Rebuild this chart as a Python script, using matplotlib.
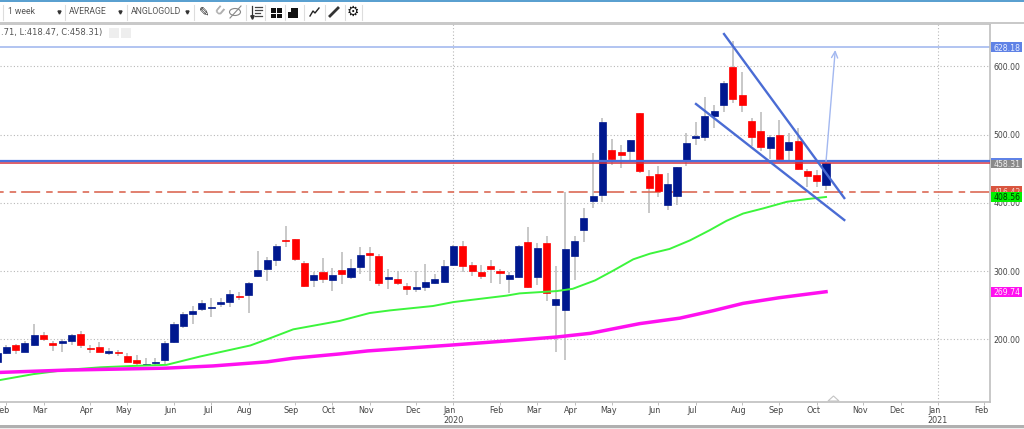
import matplotlib
matplotlib.use("Agg")
import matplotlib.pyplot as plt
from matplotlib.patches import Rectangle, Ellipse, Polygon
from matplotlib.transforms import ScaledTranslation

opens = [167,180,191,182,192,206,194,194,197,208,188,189,180,182,175,169,163,165,169,196,
         219,237,244,246,252,254,264,264.5,293,303.4,315.5,346,347,311.6,286.4,299,286.4,301,291,306,
         326,322,289,289,278.5,274,276,282.5,284,309,336.6,309,298.5,307,299.5,288.8,291,342.4,291,340.5,
         250,243.4,322,359.5,402.4,412,477.7,475,475.7,531,440,442,397,409.7,463,495.6,496,527,543,598.5,
         558.4,519.3,504.6,480,498.8,478,490.5,447,440.6,426]
highs = [182,192,193,197,222,210,197,201,208,212,191,196,188,184,180,177,172,172,197,226,
         240,248.5,257,260,261,272,269,284,329,321,340,366,347,314.6,298.5,319,305,328,317.5,335,
         335,325,303,300,282,300,310,296,316.6,337.5,344,313,309,315.6,303.4,298.5,337.5,364.4,341,351,
         307,415.6,351,392,473,525,493.7,484,492,531,448.5,454,443.7,453,502,519,555,543,579,637.6,
         592,523.7,533.5,499,521,501.7,509,449.4,448,461]
lows = [164,178,178,181,190,197,183,182,191,187,180,181,177,175,166.5,161,162,163,164,195,
        217,223,242,232,248,248,258,239,291,285,308,335,314.5,276.7,276.7,282.5,271,281,289,296,
        285,278,273,279,265,269,271,281,283,308,298.5,293,288,283,280.5,268,290,275,280,256,
        181.5,170,287,342.4,393,401.5,456,451.5,459.7,444,384.5,408,390,396.6,453.4,485,491,509,533.5,545.7,
        533.5,483,476,463.6,461,462.6,448,423.5,423.5,418.47]
closes = [180,189,184,194,206,200,192,198,206,192,186,182,183.5,180,167,165,164,167,194,222,
          237,241,253,248,254,266,262.6,282.5,301,315.5,336,344,318,278.6,294.7,289,294.7,295,305,324,
          324,283,291,282.5,274,276.6,284,289,307,336.6,308,299.5,292.7,303.4,297,294.6,336,276,334,268,
          259.5,332,344.4,378,410.7,519,463.6,469.4,491.7,447,422,417.5,427.7,453,487,498.5,526.7,534,575.5,552.6,
          542.8,496.8,482,496.8,464,488.5,449.4,438.6,432.3,458.31]

month_idx = [1,5,10,14,19,23,27,32,36,40,45,49,54,58,62,66,71,75,80,84,88,93,97,101,106]
month_lab = ["Feb","Mar","Apr","May","Jun","Jul","Aug","Sep","Oct","Nov","Dec","Jan","Feb","Mar","Apr",
             "May","Jun","Jul","Aug","Sep","Oct","Nov","Dec","Jan","Feb"]
year_idx = [49,101]
year_lab = ["2020","2021"]
price_ticks = [200,300,400,500,600]

green_idx = [0.3,3.9,7.5,11.1,14.6,18.2,21.8,27.2,29,31.8,36.8,40,42.2,46.8,49,54.7,56.1,60.1,61.8,64.2,
             66.2,68.3,70.1,72.2,74.4,76.5,78.3,80.1,82.3,84.8,86.9,89]
green_val = [140.3,149,155.3,159,161,162.6,174.8,191,200,214.6,227,238.5,242.4,248.8,254.6,264,267.3,270.7,
             274,286.3,301,317.2,325.5,332.4,345,359.8,373.5,384.3,392,401.5,405.4,408.56]
mag_idx = [0.3,7.5,18.2,23.2,29,31.8,36.8,39.8,48.9,54.7,60.1,63.7,69,73.3,76.9,80.1,84,89]
mag_val = [151.5,154.9,157.8,161,167,172.3,178.6,183,191.7,197.6,203.4,208.8,223,231,242,252.7,261,269.74]

target_price = 628.18
last_close = 458.31
blue_level = 461
resist_price = 416.42
wedge_top_x, wedge_top_y = [78.05,90.96], [647.3,407]
wedge_low_x, wedge_low_y = [75.04,90.96], [544.8,374.8]
arrow_x, arrow_y = [89,89.99], [461,623.9]

W, H = 1024, 429
fig = plt.figure(figsize=(W/100, H/100), dpi=100, facecolor="white")
plt.rcParams["font.family"] = "DejaVu Sans"
L, R, T, B = 0, 989.7, 24, 401.7
ax = fig.add_axes([L/W, 1-B/H, (R-L)/W, (B-T)/H], facecolor="white")
ax.set_xlim((L+3)/9.315, (R+3)/9.315)
ax.set_ylim(108.6, 662)

BLUE, RED = "#00188f", "#ff0000"
idx = list(range(len(closes)))
ax.vlines(idx, lows, highs, colors="#bfbfbf", lw=1.2, zorder=2)
ax.hlines(resist_price, *ax.get_xlim(), colors="#dc6a55", lw=1.2,
          linestyles=(9.2, (11.4, 3.6, 3.9, 3.0)), zorder=2.5)
for i, o, c in zip(idx, opens, closes):
    col = BLUE if c >= o else RED
    ax.bar(i, abs(c-o), bottom=min(o, c), width=0.76, color=col, edgecolor=col, lw=0.5, zorder=3)

ax.plot(green_idx, green_val, color="#3cf53c", lw=1.4, zorder=4)
ax.plot(mag_idx, mag_val, color="#ff10f0", lw=2.5, zorder=4)
ax.axhline(last_close, color="#d8333f", lw=1.1, zorder=5)
ax.axhline(blue_level, color="#4a6fdc", lw=1.6, zorder=5)
ax.axhline(target_price, color="#9db4ee", lw=1.1, zorder=2.5)
ax.plot(wedge_top_x, wedge_top_y, color="#4a6cd4", lw=1.7, zorder=6)
ax.plot(wedge_low_x, wedge_low_y, color="#4a6cd4", lw=1.7, zorder=6)
ax.annotate("", xy=(arrow_x[1], arrow_y[1]), xytext=(arrow_x[0], arrow_y[0]),
            arrowprops=dict(arrowstyle="->,head_length=0.45,head_width=0.22", color="#a3b8f0", lw=1.0,
                            shrinkA=0, shrinkB=0), zorder=6)

ax.spines["left"].set_visible(False)
for s in ("top", "right", "bottom"):
    ax.spines[s].set_color("#bfbfbf")
    ax.spines[s].set_linewidth(1.2)

ax.yaxis.tick_right()
ax.set_yticks(price_ticks, [f"{p:.2f}" for p in price_ticks])
ax.tick_params(axis="y", length=0, pad=2.5, labelsize=5.6, labelcolor="#444444")
ax.grid(axis="y", color="#b8b8b8", ls=(0, (1, 2)), lw=0.8)
ax.set_xticks(month_idx, month_lab)
ax.tick_params(axis="x", length=1.8, width=0.7, color="#bfbfbf", pad=1.3, labelsize=5.8, labelcolor="#444444")
off = ScaledTranslation(-3.5/100, 0, fig.dpi_scale_trans)
for lb in ax.get_xticklabels():
    lb.set_transform(lb.get_transform() + off)
ax.set_axisbelow(True)
for v in year_idx:
    ax.axvline(v, color="#b8b8b8", ls=(0, (1, 2)), lw=0.8, zorder=1)
for v, t in zip(year_idx, year_lab):
    ax.annotate(t, (v, 0), xycoords=("data", "axes fraction"), xytext=(0, -10), textcoords="offset points",
                ha="center", va="top", fontsize=5.8, color="#444444")

yt = ax.get_yaxis_transform()
boxes = [(target_price, "#5f82e6", "#e8eeff", "628.18"),
         (last_close, "#8a8a8a", "#eeeeee", "458.31"),
         (resist_price, "#d9553f", "#f3d0c8", "416.42"),
         (408.56, "#00f000", "#003000", "408.56"),
         (269.74, "#ff10f0", "#ffe6fb", "269.74")]
fw = 1/ax.get_position().width/W
for n, (p, bg, fg, t) in enumerate(boxes):
    ax.add_patch(Rectangle((1+1.5*fw, p-7.6), 31*fw, 15.2, transform=yt, facecolor=bg, edgecolor="none",
                           clip_on=False, zorder=7+n))
    ax.text(1+17*fw, p, t, transform=yt, color=fg, fontsize=5.6, ha="center", va="center_baseline",
            clip_on=False, zorder=7+n)
ax.add_patch(Rectangle((1+1.5*fw, last_close+5), 31*fw, 2.6, transform=yt, facecolor="#5f82e6",
                       edgecolor="none", clip_on=False, zorder=8))

ui = fig.add_axes([0, 0, 1, 1], zorder=10)
ui.set_xlim(0, W); ui.set_ylim(H, 0); ui.axis("off")
ui.add_patch(Rectangle((0, 0), W, 2.2, color="#5aa0d0", lw=0))
ui.add_patch(Rectangle((0, 22), W, 1.6, color="#c9c9c9", lw=0))
ui.add_patch(Rectangle((0, 425), W, 2.6, color="#b0b0b0", lw=0))
ui.add_patch(Rectangle((0, 427.6), W, 1.4, color="#ececec", lw=0))
ui.add_patch(Polygon([[828, 401], [833.5, 396], [839, 401]], closed=True, fill=False, ec="#c4c4c4", lw=0.8))
for x in (3, 65, 127, 194, 246, 265, 285, 304, 325, 345, 362):
    ui.plot([x, x], [5, 20], color="#dddddd", lw=0.8)
tb = dict(family="Roboto", fontsize=6.2, color="#555555", va="center", ha="left")
ui.text(8, 12, "1 week", **tb)
ui.text(69, 12, "AVERAGE", **tb)
ui.text(131, 12, "ANGLOGOLD", **tb)
for x in (59, 120, 187):
    ui.plot(x, 11.5, marker="v", ms=2.2, color="#333333")
ui.text(1, 32, ".71, L:418.47, C:458.31)", fontsize=6, color="#555555", va="center", ha="left")
for x in (114, 126):
    ui.add_patch(Rectangle((x-5, 28), 10, 10, color="#eeeeee", lw=0))
ui.text(204, 12, "\u270E", fontsize=9, color="#222222", ha="center", va="center")
ui.text(218, 12, "U", fontsize=8, color="#b0b0b0", ha="center", va="center", rotation=-40, weight="bold")
ui.add_patch(Ellipse((235, 12), 11, 7, fill=False, ec="#888888", lw=0.8))
ui.plot([230, 241], [18, 6], color="#888888", lw=0.8)
ui.plot([252, 252], [6, 18], color="#333333", lw=0.9)
ui.plot(252, 17, marker="v", ms=2.5, color="#333333")
for y, x1 in ((7, 262), (10, 262), (13, 260), (16, 262)):
    ui.plot([255, x1], [y, y], color="#444444", lw=0.9)
for x, y in ((271, 8), (277, 8), (271, 13.5), (277, 13.5)):
    ui.add_patch(Rectangle((x, y), 4.8, 4.8, color="#111111", lw=0))
ui.add_patch(Rectangle((291, 8), 7, 10, color="#111111", lw=0))
ui.add_patch(Rectangle((288, 12), 3, 6, color="#111111", lw=0))
ui.plot([310, 313, 315, 319], [16, 11, 13, 8], color="#222222", lw=1)
ui.plot([330, 338], [16, 8], color="#333333", lw=2)
ui.text(353, 12, "\u2699", fontsize=10, color="#111111", ha="center", va="center")

fig.savefig("out.png", dpi=100)
